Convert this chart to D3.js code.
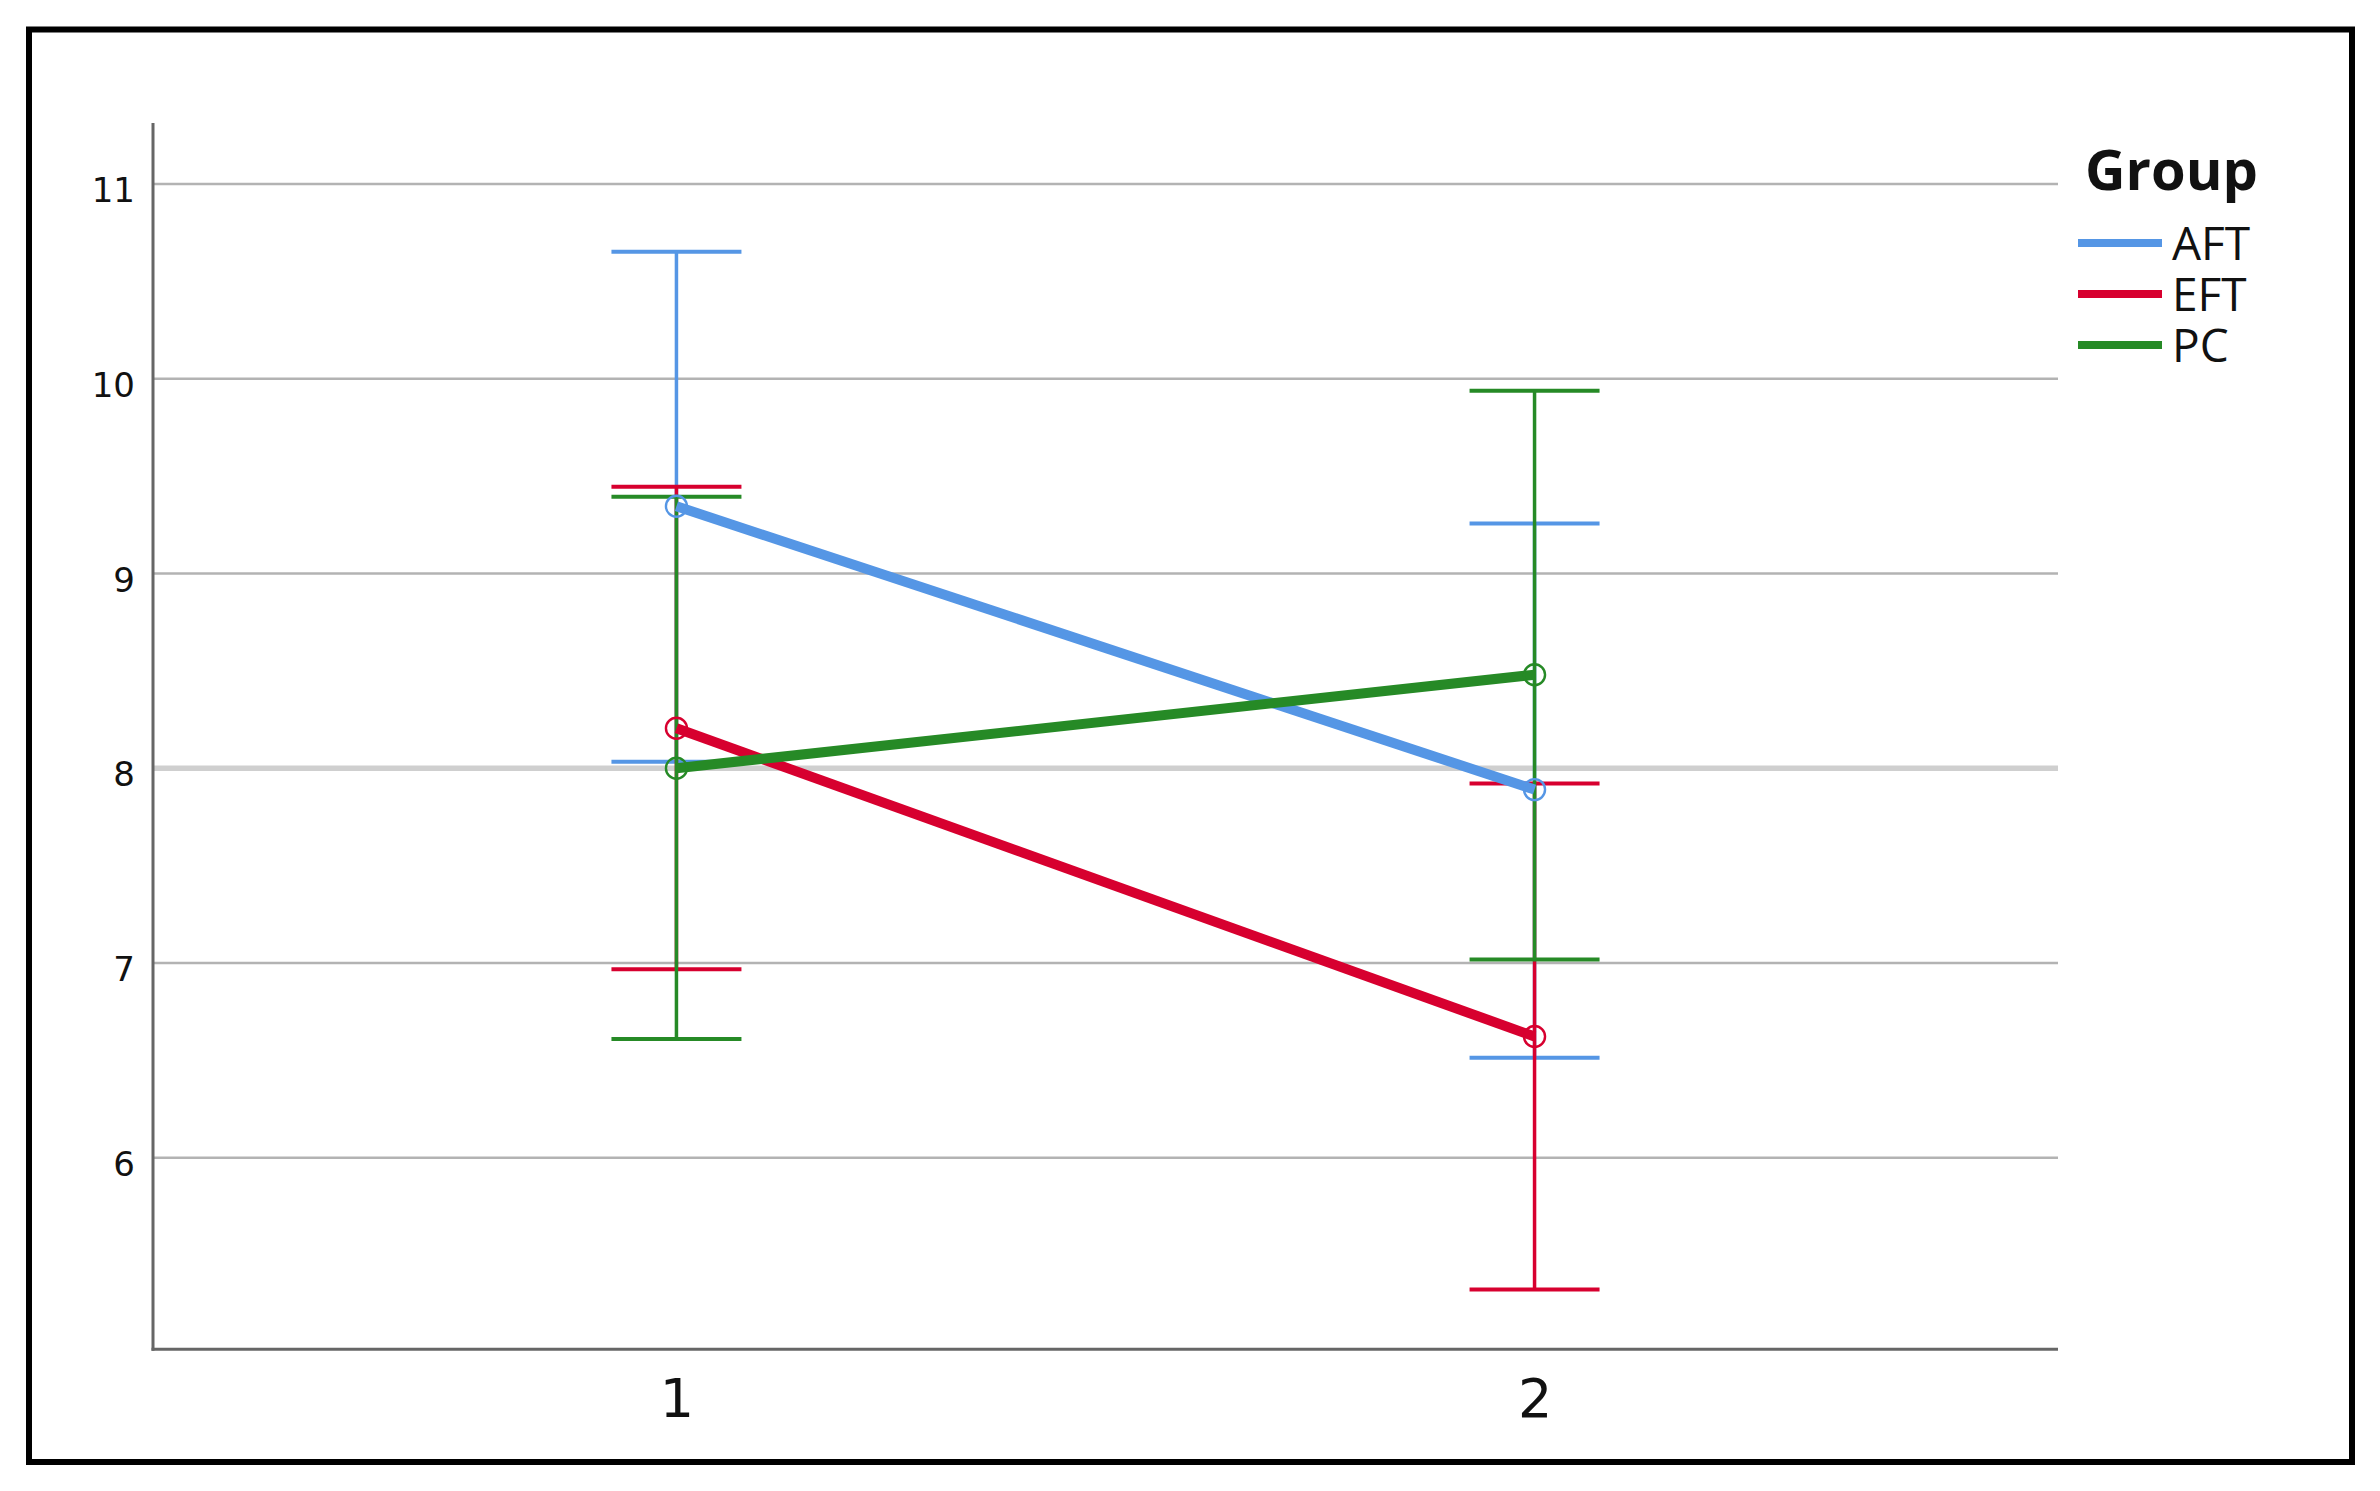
<!DOCTYPE html>
<html>
<head>
<meta charset="utf-8">
<script src="https://cdn.jsdelivr.net/npm/d3@7"></script>
<style>
  html, body { margin: 0; padding: 0; background: #fff; }
  svg { display: block; }
</style>
</head>
<body>
<svg id="chart" width="2380" height="1491"></svg>
<script>
// ---- data ----
const categories = ["1", "2"];
const groups = ["AFT", "EFT", "PC"];
const aftMean = [9.345, 7.89];
const aftLow  = [8.033, 6.513];
const aftHigh = [10.652, 9.257];
const eftMean = [8.205, 6.622];
const eftLow  = [6.967, 5.323];
const eftHigh = [9.445, 7.922];
const pcMean  = [8.0, 8.48];
const pcLow   = [6.609, 7.018];
const pcHigh  = [9.394, 9.938];
const yTicks  = [6, 7, 8, 9, 10, 11];
const yDomain = [5.016, 11.313];
const refValue = 8;
const groupColors = ["#5596e5", "#d7002f", "#268a26"];

const series = [
  { name: groups[0], mean: aftMean, low: aftLow, high: aftHigh, color: groupColors[0] },
  { name: groups[1], mean: eftMean, low: eftLow, high: eftHigh, color: groupColors[1] },
  { name: groups[2], mean: pcMean,  low: pcLow,  high: pcHigh,  color: groupColors[2] }
];

const svg = d3.select("#chart");

// frame
svg.append("rect")
  .attr("x", 29).attr("y", 29.5)
  .attr("width", 2352 - 29).attr("height", 1462 - 29.5)
  .attr("fill", "#fff").attr("stroke", "#000").attr("stroke-width", 6);

const plotLeft = 153, plotRight = 2058, plotTop = 123, plotBottom = 1349.3;

const x = d3.scalePoint().domain(categories).range([plotLeft, plotRight]).padding(0.61);
const y = d3.scaleLinear().domain(yDomain).range([plotBottom, plotTop]);

// gridlines
svg.append("g").selectAll("line").data(yTicks).join("line")
  .attr("x1", plotLeft).attr("x2", plotRight)
  .attr("y1", d => y(d)).attr("y2", d => y(d))
  .attr("stroke", "#b3b3b3").attr("stroke-width", 2.5);

// reference line
svg.append("line")
  .attr("x1", plotLeft).attr("x2", plotRight)
  .attr("y1", y(refValue)).attr("y2", y(refValue))
  .attr("stroke", "#cfcfcf").attr("stroke-width", 5.5);

// axes
const yAxis = svg.append("g")
  .attr("transform", `translate(${plotLeft},0)`)
  .call(d3.axisLeft(y).tickValues(yTicks).tickSize(0).tickPadding(18).tickFormat(d3.format("d")));
yAxis.select(".domain").remove();
yAxis.selectAll("text")
  .attr("font-family", "'DejaVu Sans', sans-serif")
  .attr("font-size", 34)
  .attr("fill", "#111")
  .attr("dy", "0.52em");

const xAxis = svg.append("g")
  .attr("transform", `translate(0,${plotBottom})`)
  .call(d3.axisBottom(x).tickSize(0).tickPadding(0));
xAxis.select(".domain").remove();
xAxis.selectAll("text")
  .attr("font-family", "'DejaVu Sans', sans-serif")
  .attr("font-size", 54)
  .attr("fill", "#111")
  .attr("y", 1417 - plotBottom)
  .attr("dy", 0);

svg.append("line")
  .attr("x1", plotLeft).attr("x2", plotLeft)
  .attr("y1", plotTop).attr("y2", plotBottom + 1.5)
  .attr("stroke", "#666").attr("stroke-width", 3);
svg.append("line")
  .attr("x1", plotLeft - 1.5).attr("x2", plotRight)
  .attr("y1", plotBottom).attr("y2", plotBottom)
  .attr("stroke", "#666").attr("stroke-width", 3);

// error bars
const capHalf = 65;
series.forEach(s => {
  const g = svg.append("g");
  categories.forEach((c, i) => {
    const cx = x(c);
    g.append("line")
      .attr("x1", cx).attr("x2", cx)
      .attr("y1", y(s.high[i])).attr("y2", y(s.low[i]))
      .attr("stroke", s.color).attr("stroke-width", 3.5);
    [s.high[i], s.low[i]].forEach(v => {
      g.append("line")
        .attr("x1", cx - capHalf).attr("x2", cx + capHalf)
        .attr("y1", y(v)).attr("y2", y(v))
        .attr("stroke", s.color).attr("stroke-width", 4);
    });
  });
});

// mean lines + markers
const line = d3.line().x((d, i) => x(categories[i])).y(d => y(d));
series.forEach(s => {
  svg.append("path")
    .attr("d", line(s.mean))
    .attr("fill", "none")
    .attr("stroke", s.color)
    .attr("stroke-width", 10);
  svg.append("g").selectAll("circle").data(s.mean).join("circle")
    .attr("cx", (d, i) => x(categories[i]))
    .attr("cy", d => y(d))
    .attr("r", 10.5)
    .attr("fill", "none")
    .attr("stroke", s.color)
    .attr("stroke-width", 2.4);
});

// legend
const legend = svg.append("g");
legend.append("text")
  .attr("x", 2085).attr("y", 190)
  .attr("font-family", "'Open Sans', sans-serif")
  .attr("font-weight", "bold")
  .attr("font-size", 56)
  .attr("fill", "#111")
  .text("Group");
const legendRowY = [243, 294, 345];
series.forEach((s, i) => {
  legend.append("line")
    .attr("x1", 2078).attr("x2", 2162)
    .attr("y1", legendRowY[i]).attr("y2", legendRowY[i])
    .attr("stroke", s.color).attr("stroke-width", 8);
  legend.append("text")
    .attr("x", 2172).attr("y", legendRowY[i] + 17)
    .attr("font-family", "'Open Sans', sans-serif")
    .attr("font-size", 46)
    .attr("fill", "#111")
    .text(s.name);
});
</script>
</body>
</html>
